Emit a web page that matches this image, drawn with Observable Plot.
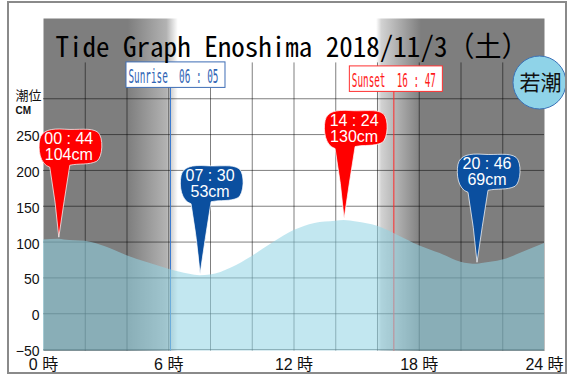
<!DOCTYPE html>
<html>
<head>
<meta charset="utf-8">
<script src="https://cdn.jsdelivr.net/npm/d3@7"></script>
<script src="https://cdn.jsdelivr.net/npm/@observablehq/plot@0.6"></script>
<style>
  html, body { margin: 0; padding: 0; background: #fff; }
  #wrap { position: relative; width: 573px; height: 376px; overflow: hidden; }
  #border { position: absolute; left: 7px; top: 1px; width: 560px; height: 373px; box-sizing: border-box; border: 2px solid #8a8a8a; pointer-events: none; }
</style>
</head>
<body>
<div id="wrap"><div id="border"></div></div>
<script>
// ---- data ----
const title = "Tide Graph Enoshima 2018/11/3（土）";
const tideName = "若潮";
const sunriseTime = "06:05";
const sunsetTime = "16:47";

const xTicks = [0, 6, 12, 18, 24];
const gridHours = [2, 4, 6, 8, 10, 12, 14, 16, 18, 20, 22];
const yTicks = [-50, 0, 50, 100, 150, 200, 250];
const gridLevels = [-50, 0, 50, 100, 150, 200, 250, 300];
const gridTop = 350;
const yDomain = [-52, 412];

// hourly tide level readings (cm)
const tideHours  = [0, 1, 2, 3, 4, 5, 6, 7, 8, 9, 10, 11, 12, 13, 14, 15, 16, 17, 18, 19, 20, 21, 22, 23, 24];
const tideLevels = [103, 103, 101, 93, 81, 71, 62, 55, 54, 64, 80, 99, 116, 126, 129, 128, 122, 109, 95, 84, 72, 70, 75, 86, 98];

// high / low tides
const extremeTimes  = ["00:44", "07:30", "14:24", "20:46"];
const extremeLevels = [104, 53, 130, 69];
const extremeTypes  = ["high", "low", "high", "low"];

// ---- helpers ----
const toHours = s => { const [h, m] = s.split(":").map(Number); return h + m / 60; };
const extremes = extremeTimes.map((t, i) => ({
  t, h: toHours(t), cm: extremeLevels[i], type: extremeTypes[i]
}));
const tide = tideHours.map((h, i) => ({h, cm: tideLevels[i]}))
  .concat(extremes.map(d => ({h: d.h, cm: d.cm})))
  .sort((a, b) => a.h - b.h);
const sunriseH = toHours(sunriseTime);
const sunsetH = toHours(sunsetTime);
const fmtTime = s => s.replace(":", " : ");

const NIGHT = "#7e7e7e";
const RED = "#ff0000";
const BLUE = "#0b4f9f";

const balloon = {
  draw(ctx) {
    const o = -2;
    ctx.moveTo(0, o);
    ctx.quadraticCurveTo(-3, o - 35, -9, o - 70);
    ctx.bezierCurveTo(-19, o - 73, -21, o - 88, -19, o - 98);
    ctx.bezierCurveTo(-17, o - 107, -8, o - 109, 6, o - 108);
    ctx.bezierCurveTo(20, o - 107, 32, o - 110, 39, o - 105);
    ctx.bezierCurveTo(45, o - 100, 44, o - 80, 38, o - 76);
    ctx.bezierCurveTo(30, o - 72, 20, o - 74, 11, o - 72);
    ctx.quadraticCurveTo(5, o - 35, 0, o);
    ctx.closePath();
  }
};

const sansFont = "'Liberation Sans', Arial, 'Noto Sans CJK JP', sans-serif";
const monoFont = "'Noto Sans Mono CJK JP', 'DejaVu Sans Mono', monospace";
const labelFont = "'DejaVu Sans Mono', monospace";

const chart = Plot.plot({
  width: 573,
  height: 376,
  marginLeft: 43,
  marginRight: 29,
  marginTop: 18,
  marginBottom: 25.5,
  x: {domain: [0, 24]},
  y: {domain: yDomain},
  color: {domain: ["high", "low"], range: [RED, BLUE]},
  style: {background: "transparent", fontFamily: sansFont, overflow: "visible"},
  marks: [
    Plot.frame({fill: "url(#daynight)", stroke: "none"}),
    Plot.ruleY(gridLevels, {stroke: "#000", strokeOpacity: 0.5}),
    Plot.ruleX(gridHours, {y1: yDomain[0], y2: gridTop, stroke: "#000", strokeOpacity: 0.5}),
    Plot.ruleX([sunriseH], {stroke: "#3a7ad0", strokeWidth: 1, insetTop: 69}),
    Plot.ruleX([sunsetH], {stroke: "#ff2a2a", strokeWidth: 1, insetTop: 72.5}),
    Plot.areaY(tide, {x: "h", y1: yDomain[0], y2: "cm", curve: "monotone-x", fill: "#92d5e4", fillOpacity: 0.56}),
    Plot.text([sunriseTime], {x: sunriseH, frameAnchor: "top", textAnchor: "start", lineAnchor: "middle", dx: -42, dy: 58.5,
      text: d => "Sunrise  " + fmtTime(d), fill: "#2f64b4", fontSize: 20, fontFamily: labelFont}),
    Plot.text([sunsetTime], {x: sunsetH, frameAnchor: "top", textAnchor: "start", lineAnchor: "middle", dx: -42, dy: 62.5,
      text: d => "Sunset  " + fmtTime(d), fill: "#ff1a1a", fontSize: 20, fontFamily: labelFont}),
    Plot.dot(extremes, {x: "h", y: "cm", symbol: balloon, r: 5, fill: "type", stroke: "#fff", strokeWidth: 0.8, strokeOpacity: 0.9}),
    Plot.text(extremes, {x: "h", y: "cm", text: d => `${fmtTime(d.t)}\n${d.cm}cm`, fill: "#fff",
      fontSize: 16, dx: 10, dy: -92, lineAnchor: "middle", lineHeight: 1.0, fontFamily: sansFont}),
    Plot.text([title], {frameAnchor: "top", lineAnchor: "middle", dx: -2, dy: 29.6, fontSize: 28, fill: "#000", fontFamily: monoFont}),
    Plot.text(["潮位"], {frameAnchor: "top-left", textAnchor: "start", lineAnchor: "middle", dx: -28, dy: 77.5, fontSize: 13, fill: "#111",
      fontFamily: "'Noto Sans CJK JP', sans-serif"}),
    Plot.text(["CM"], {frameAnchor: "top-left", textAnchor: "start", lineAnchor: "middle", dx: -28, dy: 92.5, fontSize: 10, fontWeight: "bold", fill: "#111"}),
    Plot.dot([tideName], {x: 24, y: yDomain[1], dx: -5, dy: 64, r: 26.5, fill: "#8fd3e8", stroke: "#3a72b8", strokeWidth: 1}),
    Plot.text([tideName], {x: 24, y: yDomain[1], textAnchor: "middle", lineAnchor: "middle", dx: -4, dy: 64.3, fontSize: 21, fill: "#111",
      fontFamily: "'Noto Sans CJK JP', sans-serif"}),
    Plot.axisY(yTicks, {tickSize: 0, tickPadding: 4, dy: 2, fontSize: 14, fill: "#111", label: null, fontFamily: sansFont}),
    Plot.axisX(xTicks, {tickSize: 0, tickPadding: 8, tickFormat: d => `${d} 時`, fontSize: 16, fill: "#111", label: null,
      fontFamily: sansFont})
  ]
});

document.getElementById("wrap").insertBefore(chart, document.getElementById("border"));

// gradient for night / day background
const NS = "http://www.w3.org/2000/svg";
const defs = document.createElementNS(NS, "defs");
const grad = document.createElementNS(NS, "linearGradient");
grad.setAttribute("id", "daynight");
grad.setAttribute("x1", "0"); grad.setAttribute("x2", "1");
grad.setAttribute("y1", "0"); grad.setAttribute("y2", "0");
const stops = [
  [0, NIGHT],
  [sunriseH - 2.05, NIGHT],
  [sunriseH - 0.2, "#b2b2b2"],
  [sunriseH + 0.35, "#ffffff"],
  [sunsetH - 0.85, "#ffffff"],
  [sunsetH - 0.6, "#d2d2d2"],
  [sunsetH + 1.3, NIGHT],
  [24, NIGHT]
];
for (const [h, c] of stops) {
  const s = document.createElementNS(NS, "stop");
  s.setAttribute("offset", String(h / 24));
  s.setAttribute("stop-color", c);
  grad.appendChild(s);
}
defs.appendChild(grad);
chart.insertBefore(defs, chart.firstChild);

// condensed text + boxes
for (const t of chart.querySelectorAll("text")) {
  const s = t.textContent;
  if (s === title) {
    t.setAttribute("textLength", 473);
    t.setAttribute("lengthAdjust", "spacingAndGlyphs");
  }
  if (s.startsWith("Sunrise") || s.startsWith("Sunset")) {
    const sunrise = s.startsWith("Sunrise");
    t.setAttribute("textLength", sunrise ? 90 : 84);
    t.setAttribute("lengthAdjust", "spacingAndGlyphs");
    const b = t.getBBox();
    const r = document.createElementNS(NS, "rect");
    r.setAttribute("x", b.x - 2.5);
    r.setAttribute("y", b.y - 2.5);
    r.setAttribute("width", b.width + 9);
    r.setAttribute("height", b.height + 1.5);
    r.setAttribute("fill", "#fff");
    r.setAttribute("stroke", sunrise ? "#3d6db5" : "#ff3030");
    r.setAttribute("stroke-width", 1);
    if (t.getAttribute("transform")) r.setAttribute("transform", t.getAttribute("transform"));
    t.parentNode.insertBefore(r, t);
  }
}
</script>
</body>
</html>
